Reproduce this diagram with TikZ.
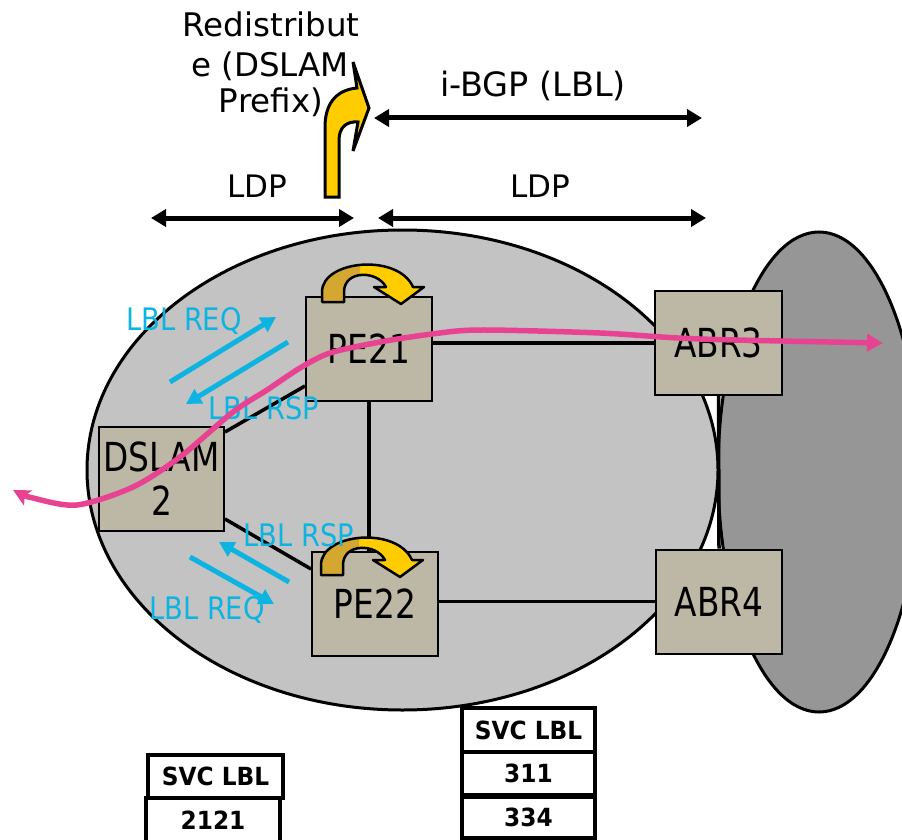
\documentclass[tikz,border=0pt]{standalone}
\usepackage{fontspec}
\usetikzlibrary{arrows.meta,backgrounds}
\newfontfamily\topf{DejaVu Sans}
\newfontfamily\boxf[FakeStretch=0.82]{DejaVu Sans}
\newfontfamily\lblf[FakeStretch=0.88]{DejaVu Sans}
\newfontfamily\tabf[FakeStretch=0.93]{DejaVu Sans}
\definecolor{lightgr}{HTML}{C3C3C3}
\definecolor{darkgr}{HTML}{969696}
\definecolor{boxc}{HTML}{BDB8A6}
\definecolor{cyanc}{HTML}{0DB4E1}
\definecolor{pinkc}{HTML}{E84393}
\definecolor{yel}{HTML}{FFCC00}
\definecolor{goldc}{HTML}{D4A730}
\begin{document}
\begin{tikzpicture}[x=1pt,y=-1pt,
  router/.style={draw=black, line width=2pt, fill=boxc, inner sep=0pt,
    minimum width=126pt, minimum height=104pt, align=center,
    font=\boxf\fontsize{40}{44}\selectfont},
  link/.style={line width=3.5pt},
  bigarr/.style={line width=5pt, {Triangle[length=15pt,width=17pt]}-{Triangle[length=15pt,width=17pt]}},
  cyarr/.style={cyanc, line width=5pt, -{Triangle[length=15pt,width=16pt]}},
  cytxt/.style={cyanc, anchor=base, inner sep=0pt, font=\lblf\fontsize{31}{34}\selectfont},
  toptxt/.style={anchor=base, inner sep=0pt, font=\topf\fontsize{32.5}{36}\selectfont},
  tabcell/.style={draw=black, line width=4pt, fill=white, inner sep=0pt,
    font=\tabf\bfseries\fontsize{25}{28}\selectfont},
  uturn/.pic={
    \fill[yel] (322,302) -- (322,292) .. controls (322,260) and (398,253) .. (413,287)
      -- (424,287) -- (401,304) -- (374,287) -- (386,287)
      .. controls (377,270) and (344,270) .. (344,292) -- (344,302) -- cycle;
    \begin{scope}
      \clip (300,240) rectangle (360,310);
      \fill[goldc] (322,302) -- (322,292) .. controls (322,260) and (398,253) .. (413,287)
        -- (424,287) -- (401,304) -- (374,287) -- (386,287)
        .. controls (377,270) and (344,270) .. (344,292) -- (344,302) -- cycle;
    \end{scope}
    \draw[line width=2.5pt, line join=round] (322,302) -- (322,292) .. controls (322,260) and (398,253) .. (413,287)
      -- (424,287) -- (401,304) -- (374,287) -- (386,287)
      .. controls (377,270) and (344,270) .. (344,292) -- (344,302) -- cycle;
  }
]
\useasboundingbox (0,0) rectangle (902,840);

% routers
\node[router] (PE21) at (369,349) {PE21};
\node[router] (PE22) at (375,604) {PE22};
\node[router, minimum width=125pt] (DSLAM) at (161.5,479) {DSLAM\\2};
\node[router, minimum width=127pt] (ABR3) at (718.5,343) {ABR3};
\node[router] (ABR4) at (719,601.5) {ABR4};

\begin{pgfonlayer}{background}
% clouds
\draw[line width=3pt, fill=darkgr] (819,472) ellipse [x radius=101, y radius=240];
\draw[line width=3pt, fill=lightgr] (402.5,470) ellipse [x radius=315.5, y radius=240];
% links
\draw[link] (ABR3.west) -- (ABR3.west -| PE21.east);
\draw[link] (ABR4.west) -- (ABR4.west -| PE22.east);
\draw[link] (PE21.south) -- (PE21.south |- PE22.north);
\draw[link] ([yshift=-6pt]DSLAM.north east) -- ([yshift=16pt]PE21.south west);
\draw[link] ([yshift=13pt]DSLAM.south east) -- ([yshift=-18pt]PE22.north west);
\draw[link] (ABR3.south) -- (ABR4.north);
\end{pgfonlayer}

% u-turn arrows
\pic at (0,0) {uturn};
\pic at (-1,273) {uturn};

% redistribute arrow
\draw[line width=3pt, fill=yel, line join=miter]
  (325,197) -- (325,127) .. controls (325,105) and (335,90) .. (357,88)
  -- (353,62) -- (369,108) -- (353,151) -- (358,122)
  .. controls (347,121) and (339,127) .. (339,140) -- (339,197) -- cycle;

% top texts
\node[toptxt] (red1) at (271,37) {Redistribut};
\node[toptxt] (red2) at (270,77) {e (DSLAM};
\node[toptxt] (red3) at (271,113) {Prefix)};
\node[toptxt, font=\topf\fontsize{33.5}{36}\selectfont] (ibgp) at (533,97) {i-BGP (LBL)};
\node[toptxt, font=\topf\fontsize{31}{36}\selectfont] (ldp1) at (257,197) {LDP};
\node[toptxt, font=\topf\fontsize{31}{36}\selectfont] (ldp2) at (540,197) {LDP};

% top double arrows
\coordinate (ib1) at (374,118); \coordinate (ib2) at (702,118);
\coordinate (la1) at (151,218); \coordinate (la2) at (354,218);
\coordinate (lb1) at (378,218); \coordinate (lb2) at (706,218);
\draw[bigarr] (ib1) -- (ib2);
\draw[bigarr] (la1) -- (la2);
\draw[bigarr] (lb1) -- (lb2);

% cyan label exchange
\coordinate (c1a) at (170,382); \coordinate (c1b) at (276,317);
\coordinate (c2a) at (288,342); \coordinate (c2b) at (186,404);
\coordinate (c3a) at (289,582); \coordinate (c3b) at (219,542);
\coordinate (c4a) at (190,557); \coordinate (c4b) at (274,604);
\draw[cyarr] (c1a) -- (c1b);
\draw[cyarr] (c2a) -- (c2b);
\draw[cyarr] (c3a) -- (c3b);
\draw[cyarr] (c4a) -- (c4b);
\node[cytxt] (req1) at (184,330) {LBL REQ};
\node[cytxt] (rsp1) at (264,419) {LBL RSP};
\node[cytxt] (rsp2) at (299,546) {LBL RSP};
\node[cytxt] (req2) at (207,619) {LBL REQ};

% pink path
\draw[pinkc, line width=5.5pt, {Stealth[length=17pt,width=17pt,inset=4pt]}-{Triangle[length=16pt,width=17pt]}]
  plot[smooth, tension=0.5] coordinates {(13,490) (33,498) (77,505) (133,487) (180,457)
  (233,412) (267,390) (300,368) (330,353) (380,342) (432,334) (480,330) (600,333) (700,339) (883,343)};

% label stacks
\node[tabcell, minimum width=135pt, minimum height=43pt] (svc1) at (215.5,776.5) {SVC LBL};
\node[tabcell, minimum width=134pt, minimum height=44pt] (l2121) at (213,820) {2121};
\node[tabcell, minimum width=133pt, minimum height=44pt] (svc2) at (528.5,730) {SVC LBL};
\node[tabcell, minimum width=133pt, minimum height=43pt] (l311) at (528.5,773.5) {311};
\node[tabcell, minimum width=133pt, minimum height=41pt] (l334) at (528.5,817.5) {334};
\end{tikzpicture}
\end{document}
